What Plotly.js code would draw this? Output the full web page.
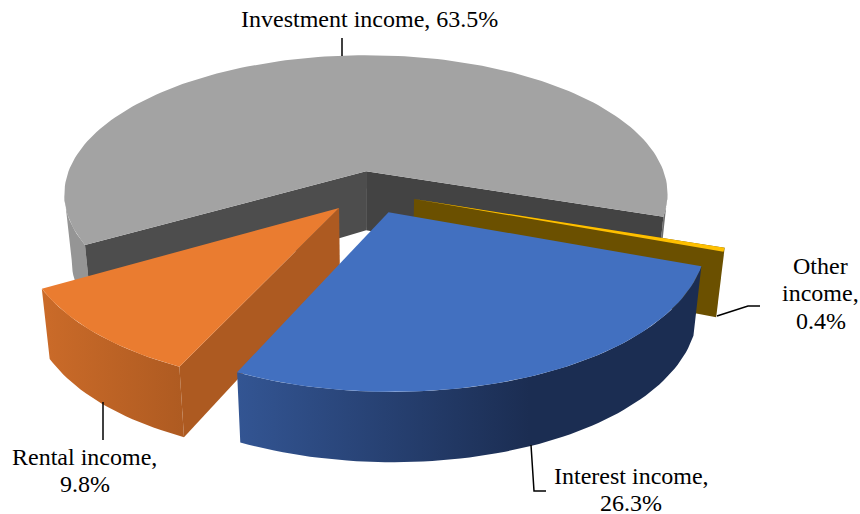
<!DOCTYPE html>
<html><head><meta charset="utf-8">
<script src="https://cdn.plot.ly/plotly-3.0.1.min.js"></script>
<style>html,body{margin:0;padding:0;background:#fff}#c{width:860px;height:514px}</style>
</head><body><div id="c"></div>
<script>
const categories=['Investment income','Other income','Interest income','Rental income'];
const shares=[63.5,0.4,26.3,9.8];
const topColors=['#a3a3a3','#ffc000','#4270c0','#ea7c30'];

// view of the tilted disc
const view={cx:370.5,cy:192,A:305,As:142,k:0.168,depth:60,bulge:5.5,bottomX:0.976,start:240,pull:0.15,edgeLeft:260.5,edgeRight:99.5};

function project(X,Y,bottom){
  const w=1+view.k*Y;
  const x=view.cx+view.A*X/w*(bottom?view.bottomX:1);
  const y=view.cy-view.As*Y/w+(bottom?view.depth/Math.pow(w,0.75)+view.bulge*X*X:0);
  return [x,y];
}
const slices=[];let cum=view.start;
shares.forEach((v,i)=>{
  const a0=cum,a1=cum+v*3.6;cum=a1;
  const m=(a0+a1)/2*Math.PI/180;
  slices.push({name:categories[i],a0,a1,ox:view.pull*Math.sin(m),oy:view.pull*Math.cos(m),color:topColors[i]});
});
function pt(s,deg,r,bottom){
  const t=deg*Math.PI/180;
  return project(s.ox+r*Math.sin(t),s.oy+r*Math.cos(t),bottom);
}
function arc(s,from,to,bottom){
  const out=[],n=Math.max(2,Math.ceil(Math.abs(to-from)/1.5));
  for(let i=0;i<=n;i++)out.push(pt(s,from+(to-from)*i/n,1,bottom));
  return out;
}
function poly(pts,name,fill,grad){
  const t={type:'scatter',mode:'lines',x:pts.map(p=>p[0]).concat(pts[0][0]),y:pts.map(p=>p[1]).concat(pts[0][1]),
    fill:'toself',line:{width:0,color:'rgba(0,0,0,0)'},name:name,hoverinfo:'name',showlegend:false};
  if(grad)t.fillgradient=grad;else t.fillcolor=fill;
  return t;
}
function hgrad(x0,x1,stops){return {type:'horizontal',start:x0,stop:x1,colorscale:stops};}
function topFace(s){return [pt(s,0,0,false)].concat(arc(s,s.a0,s.a1,false));}
function wallFace(s,from,to){return arc(s,from,to,false).concat(arc(s,to,from,true));}
function cutFace(s,deg){return [pt(s,0,0,false),pt(s,deg,1,false),pt(s,deg,1,true),pt(s,0,0,true)];}

const [inv,oth,intr,ren]=slices;
const traces=[];
// Investment
traces.push(poly(wallFace(inv,inv.a0,view.edgeLeft),inv.name,'#959595'));
traces.push(poly(wallFace(inv,view.edgeRight+360,inv.a1),inv.name,'#6f6f6f'));
traces.push(poly(cutFace(inv,inv.a0),inv.name,'#4d4d4d'));
traces.push(poly(cutFace(inv,inv.a1),inv.name,'#434343'));
traces.push(poly(topFace(inv),inv.name,inv.color));
// Other
traces.push(poly(cutFace(oth,oth.a0),oth.name,'#6b5000'));
traces.push(poly(topFace(oth),oth.name,oth.color));
// Rental
traces.push(poly(wallFace(ren,ren.a0,ren.a1),ren.name,null,hgrad(40,190,[[0,'#cb6b29'],[1,'#ad5a21']])));
traces.push(poly(cutFace(ren,ren.a0),ren.name,'#ad5a21'));
traces.push(poly(topFace(ren),ren.name,ren.color));
// Interest
traces.push(poly(wallFace(intr,intr.a0,intr.a1),intr.name,null,hgrad(237,530,[[0,'#335593'],[1,'#1b2d52']])));
traces.push(poly(topFace(intr),intr.name,intr.color));
// leader lines
const leaders=[[[342,38],[342,56]],[[717,316],[748,306],[760,306]],[[103,402],[103,440]],[[531,445],[534,491],[546,491]]];
leaders.forEach(l=>traces.push({type:'scatter',mode:'lines',x:l.map(p=>p[0]),y:l.map(p=>p[1]),line:{color:'#000',width:1.5},hoverinfo:'skip',showlegend:false}));

const fmt=i=>shares[i].toFixed(1)+'%';
const labels=[
 {x:369,y:[19],lines:[categories[0]+', '+fmt(0)]},
 {x:820.5,y:[266,293,321],lines:['Other','income,',fmt(1)]},
 {x:631,y:[476,503],lines:[categories[2]+',',fmt(2)]},
 {x:84.5,y:[457,484],lines:[categories[3]+',',fmt(3)]}
];
const notes=[];
labels.forEach(l=>l.lines.forEach((t,j)=>notes.push({x:l.x,y:l.y[j],xref:'x',yref:'y',text:t,showarrow:false,align:'center',xanchor:'center',yanchor:'middle',
   font:{family:'"Liberation Serif",serif',size:24,color:'#000'}})));
const layout={width:860,height:514,margin:{l:0,r:0,t:0,b:0},paper_bgcolor:'#fff',plot_bgcolor:'#fff',showlegend:false,
 xaxis:{range:[0,860],visible:false,fixedrange:true},
 yaxis:{range:[514,0],visible:false,fixedrange:true},
 annotations:notes};
Plotly.newPlot('c',traces,layout,{displayModeBar:false,staticPlot:true});
</script></body></html>
